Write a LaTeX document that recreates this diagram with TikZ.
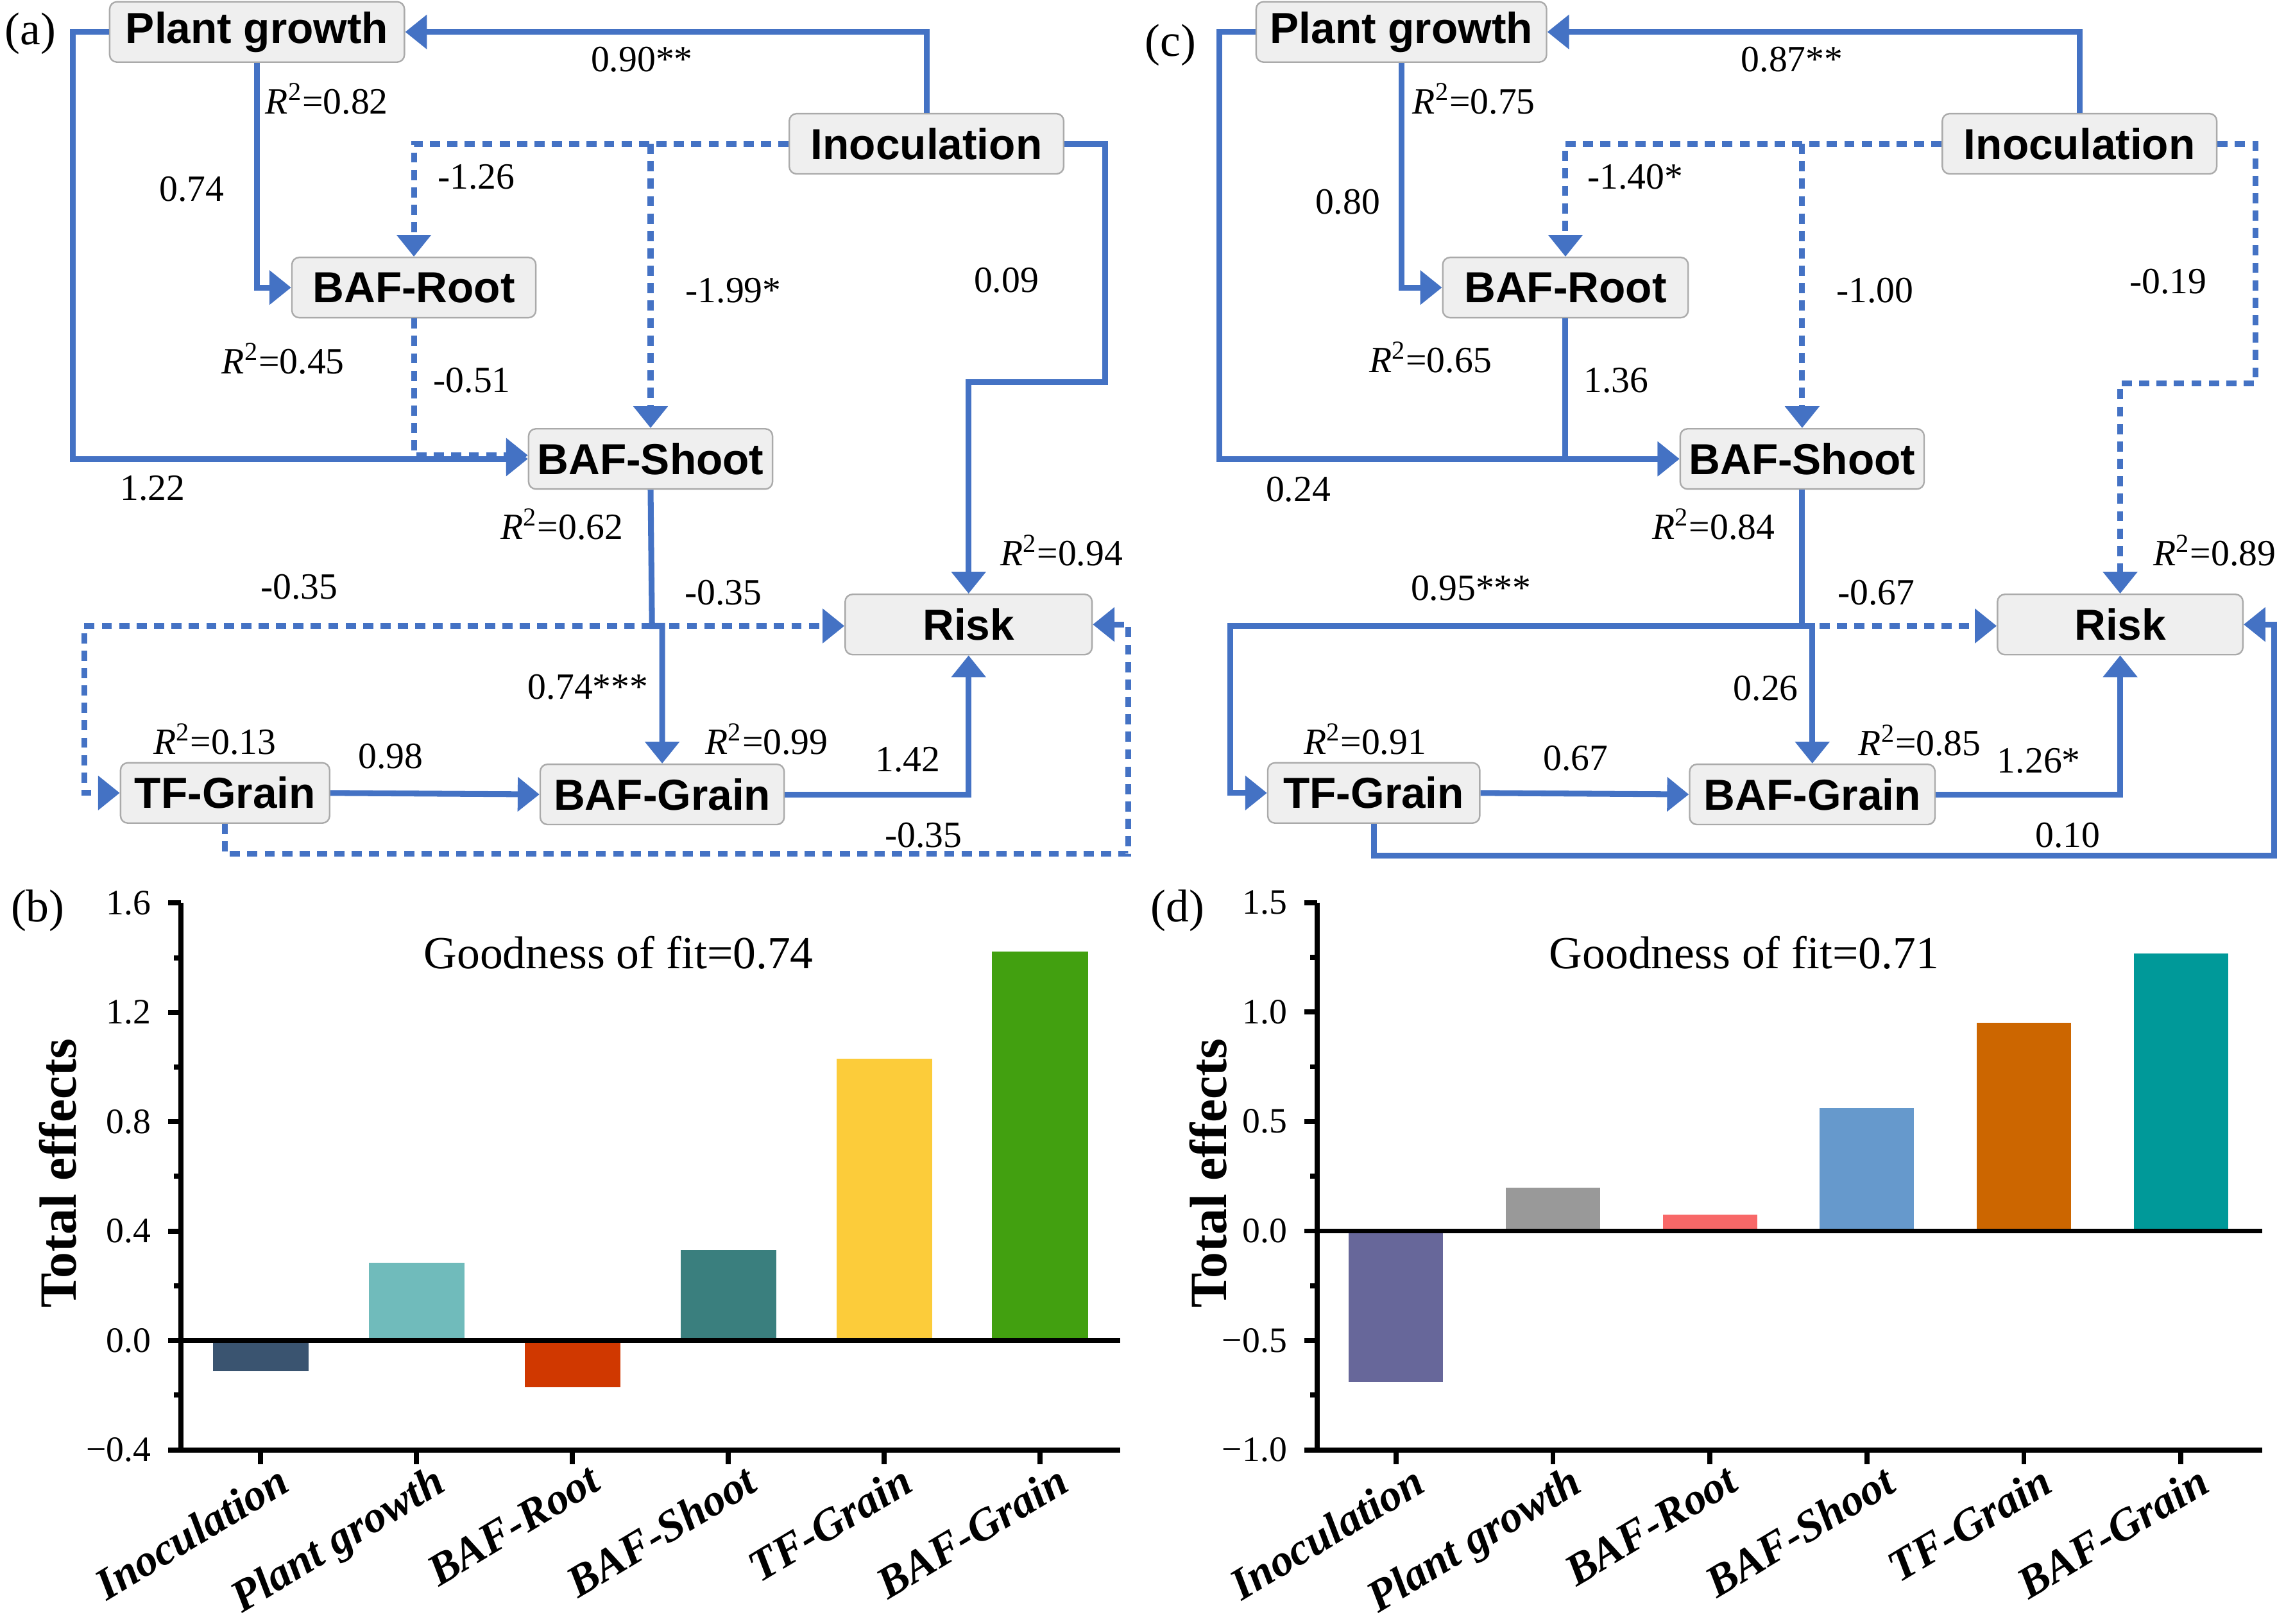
\documentclass[tikz,border=0pt]{standalone}
\usepackage{fontspec}
\setmainfont{Liberation Serif}
\newfontfamily\boxfont{Liberation Sans}
\usetikzlibrary{arrows.meta}
\usepackage{xcolor}
\definecolor{pathblue}{RGB}{68,114,196}
\definecolor{boxgray}{RGB}{239,239,239}
\definecolor{boxedge}{RGB}{170,170,170}
% bar colours, panel (b)
\definecolor{inocb}{RGB}{58,84,112}
\definecolor{plantb}{RGB}{112,187,187}
\definecolor{rootb}{RGB}{208,56,0}
\definecolor{shootb}{RGB}{58,127,126}
\definecolor{tfb}{RGB}{252,204,58}
\definecolor{grainb}{RGB}{66,160,16}
% bar colours, panel (d)
\definecolor{inocd}{RGB}{103,103,154}
\definecolor{plantd}{RGB}{153,153,153}
\definecolor{rootd}{RGB}{248,104,104}
\definecolor{shootd}{RGB}{102,153,204}
\definecolor{tfd}{RGB}{204,102,0}
\definecolor{graind}{RGB}{0,153,153}
\newcommand{\rsq}[1]{\textit{R}\textsuperscript{2}=#1}
\tikzset{varnode/.style={rectangle, rounded corners=0.1cm, fill=boxgray, draw=boxedge, line width=0.6pt, minimum height=0.83cm, inner sep=0pt, font=\boxfont\bfseries\fontsize{17}{20}\selectfont},
solidarrow/.style={pathblue, line width=0.08cm, -{Triangle[length=0.3cm, width=0.46cm]}},
dottedarrow/.style={solidarrow, dash pattern=on 0.14cm off 0.1cm},
coeflabel/.style={font=\fontsize{14.5}{17}\selectfont, inner sep=0pt}}

\begin{document}
\begin{tikzpicture}[
        x=0.02cm, y=-0.02cm,
        panellabel/.style={font=\fontsize{18}{21}\selectfont},
        axisline/.style={black, line width=0.07cm},
        ticklabel/.style={anchor=east, inner xsep=0.2cm, font=\fontsize{14}{16}\selectfont},
        catlabel/.style={anchor=north east, rotate=31, inner sep=0pt, font=\bfseries\itshape\fontsize{17.5}{20}\selectfont},
        yaxislabel/.style={rotate=90, font=\bfseries\fontsize{20.5}{24}\selectfont},
        fitlabel/.style={font=\fontsize{18}{21}\selectfont}
    ]
    \useasboundingbox (0,0) rectangle (1568,1118);
    % Panel (a): variables
    \node[panellabel] (la) at (21,23) {(a)};
    \node[varnode, minimum width=4.06cm] (pgA) at (177,22) {Plant growth};
    \node[varnode, minimum width=3.78cm] (inocA) at (638,99) {Inoculation};
    \node[varnode, minimum width=3.36cm] (rootA) at (285,198) {BAF-Root};
    \node[varnode, minimum width=3.36cm] (shootA) at (448,316) {BAF-Shoot};
    \node[varnode, minimum width=3.4cm] (riskA) at (667,430) {Risk};
    \node[varnode, minimum width=2.88cm] (tfA) at (155,546) {TF-Grain};
    \node[varnode, minimum width=3.36cm] (grainA) at (456,547) {BAF-Grain};
    \coordinate (bendA) at (761,263);
    \coordinate (jA) at (449,431);
    \coordinate (cornerA) at (58,431);
    \coordinate (bottomA) at (777,588);
    % Panel (a): paths
    \draw[solidarrow] (inocA.north) |- (pgA.east);
    \draw[solidarrow] (pgA.west) -- ++(-25,0) |- (shootA.west);
    \draw[solidarrow] (pgA.south) |- (rootA.west);
    \draw[dottedarrow] (inocA.west) -| (rootA.north);
    \draw[dottedarrow] (inocA.west -| shootA.north) -- (shootA.north);
    \draw[solidarrow] (inocA.east) -| (bendA) -| (riskA.north);
    \draw[dottedarrow] (rootA.south) |- ([yshift=0.05cm]shootA.west);
    \draw[solidarrow] (shootA.south) -- (jA) -| (grainA.north);
    \draw[dottedarrow] (jA) -- (jA -| riskA.west);
    \draw[dottedarrow] (jA) -- (cornerA) |- (tfA.west);
    \draw[solidarrow] (tfA.east) -- (grainA.west);
    \draw[solidarrow] (grainA.east) -| (riskA.south);
    \draw[dottedarrow] (tfA.south) |- (bottomA) |- (riskA.east);
    % Panel (a): coefficients
    \node[coeflabel] (cA1) at (442,41) {0.90**};
    \node[coeflabel] (cA2) at (225,68) {\rsq{0.82}};
    \node[coeflabel] (cA3) at (132,130) {0.74};
    \node[coeflabel] (cA4) at (328,122) {-1.26};
    \node[coeflabel] (cA5) at (505,200) {-1.99*};
    \node[coeflabel] (cA6) at (693,193) {0.09};
    \node[coeflabel] (cA7) at (195,247) {\rsq{0.45}};
    \node[coeflabel] (cA8) at (325,262) {-0.51};
    \node[coeflabel] (cA9) at (105,336) {1.22};
    \node[coeflabel] (cA10) at (387,361) {\rsq{0.62}};
    \node[coeflabel] (cA11) at (731,379) {\rsq{0.94}};
    \node[coeflabel] (cA12) at (206,404) {-0.35};
    \node[coeflabel] (cA13) at (498,408) {-0.35};
    \node[coeflabel] (cA14) at (405,473) {0.74***};
    \node[coeflabel] (cA15) at (148,509) {\rsq{0.13}};
    \node[coeflabel] (cA16) at (269,521) {0.98};
    \node[coeflabel] (cA17) at (528,509) {\rsq{0.99}};
    \node[coeflabel] (cA18) at (625,523) {1.42};
    \node[coeflabel] (cA19) at (636,575) {-0.35};

    % Panel (c): variables
    \node[panellabel] (lc) at (806,31) {(c)};
    \node[varnode, minimum width=4.0cm] (pgC) at (965,22) {Plant growth};
    \node[varnode, minimum width=3.78cm] (inocC) at (1432,99) {Inoculation};
    \node[varnode, minimum width=3.38cm] (rootC) at (1078,198) {BAF-Root};
    \node[varnode, minimum width=3.36cm] (shootC) at (1241,316) {BAF-Shoot};
    \node[varnode, minimum width=3.38cm] (riskC) at (1460,430) {Risk};
    \node[varnode, minimum width=2.92cm] (tfC) at (946,546) {TF-Grain};
    \node[varnode, minimum width=3.38cm] (grainC) at (1248,547) {BAF-Grain};
    \coordinate (bendC) at (1553,264);
    \coordinate (jC) at (1241,431);
    \coordinate (cornerC) at (847,431);
    \coordinate (bottomC) at (1566,589);
    % Panel (c): paths
    \draw[solidarrow] (inocC.north) |- (pgC.east);
    \draw[solidarrow] (pgC.west) -- ++(-25,0) |- (shootC.west);
    \draw[solidarrow] (pgC.south) |- (rootC.west);
    \draw[dottedarrow] (inocC.west) -| (rootC.north);
    \draw[dottedarrow] (inocC.west -| shootC.north) -- (shootC.north);
    \draw[dottedarrow] (inocC.east) -| (bendC) -| (riskC.north);
    \draw[solidarrow] (rootC.south) |- (shootC.west);
    \draw[solidarrow] (shootC.south) -- (jC) -| (grainC.north);
    \draw[dottedarrow] (jC) -- (jC -| riskC.west);
    \draw[solidarrow] (jC) -- (cornerC) |- (tfC.west);
    \draw[solidarrow] (tfC.east) -- (grainC.west);
    \draw[solidarrow] (grainC.east) -| (riskC.south);
    \draw[solidarrow] (tfC.south) |- (bottomC) |- (riskC.east);
    % Panel (c): coefficients
    \node[coeflabel] (cC1) at (1234,41) {0.87**};
    \node[coeflabel] (cC2) at (1015,68) {\rsq{0.75}};
    \node[coeflabel] (cC3) at (928,139) {0.80};
    \node[coeflabel] (cC4) at (1126,122) {-1.40*};
    \node[coeflabel] (cC5) at (1291,200) {-1.00};
    \node[coeflabel] (cC6) at (1493,194) {-0.19};
    \node[coeflabel] (cC7) at (985,246) {\rsq{0.65}};
    \node[coeflabel] (cC8) at (1113,262) {1.36};
    \node[coeflabel] (cC9) at (894,337) {0.24};
    \node[coeflabel] (cC10) at (1180,361) {\rsq{0.84}};
    \node[coeflabel] (cC11) at (1525,379) {\rsq{0.89}};
    \node[coeflabel] (cC12) at (1013,405) {0.95***};
    \node[coeflabel] (cC13) at (1292,408) {-0.67};
    \node[coeflabel] (cC14) at (1216,474) {0.26};
    \node[coeflabel] (cC15) at (940,509) {\rsq{0.91}};
    \node[coeflabel] (cC16) at (1085,522) {0.67};
    \node[coeflabel] (cC17) at (1322,510) {\rsq{0.85}};
    \node[coeflabel] (cC18) at (1404,524) {1.26*};
    \node[coeflabel] (cC19) at (1424,575) {0.10};

    % Panel (b): total effects
    \node[panellabel] (lb) at (26,627) {(b)};
    \node[yaxislabel] (ylabB) at (40,808) {Total effects};
    \node[fitlabel] (fitB) at (426,656) {Goodness of fit=0.74};
    \begin{scope}[shift={(124.7,923)}, y=3.766cm]
        % Bars
        \foreach \v/\c [count=\i] in {-0.113/inocb, 0.284/plantb, -0.172/rootb, 0.332/shootb, 1.031/tfb, 1.423/grainb} {
            \fill[\c] ({54.8+107.35*(\i-1)-33},0) rectangle ++(66,\v);
        }
        % Axes
        \draw[axisline] (0,1.6) -- (0,-0.4) -- (646.9,-0.4);
        \draw[axisline] (0,0) -- (646.9,0);
        % Axis graduation
        \foreach \v/\vtext [count=\i] in {1.6/1.6, 1.2/1.2, 0.8/0.8, 0.4/0.4, 0.0/0.0, -0.4/−0.4} {
            \draw[axisline] (0,\v) -- (-9,\v) node[ticklabel] (tickB\i) {\vtext};
        }
        \foreach \v in {1.4, 1.0, 0.6, 0.2, -0.2} {
            \draw[axisline] (0,\v) -- (-5,\v);
        }
        \foreach \n [count=\i] in {Inoculation, Plant growth, BAF-Root, BAF-Shoot, TF-Grain, BAF-Grain} {
            \draw[axisline] ({54.8+107.35*(\i-1)},-0.4) -- ++(0,-0.2cm) node[catlabel, xshift=0.22cm, yshift=-0.06cm] (catB\i) {\n};
        }
    \end{scope}

    % Panel (d): total effects
    \node[panellabel] (ld) at (811,627) {(d)};
    \node[yaxislabel] (ylabD) at (832,808) {Total effects};
    \node[fitlabel] (fitD) at (1201,656) {Goodness of fit=0.71};
    \begin{scope}[shift={(907,847.6)}, y=3.016cm]
        % Bars
        \foreach \v/\c [count=\i] in {-0.69/inocd, 0.198/plantd, 0.076/rootd, 0.56/shootd, 0.95/tfd, 1.268/graind} {
            \fill[\c] ({54.3+108.1*(\i-1)-32.5},0) rectangle ++(65,\v);
        }
        % Axes
        \draw[axisline] (0,1.5) -- (0,-1.0) -- (651,-1.0);
        \draw[axisline] (0,0) -- (651,0);
        % Axis graduation
        \foreach \v/\vtext [count=\i] in {1.5/1.5, 1.0/1.0, 0.5/0.5, 0.0/0.0, -0.5/−0.5, -1.0/−1.0} {
            \draw[axisline] (0,\v) -- (-9,\v) node[ticklabel] (tickD\i) {\vtext};
        }
        \foreach \v in {1.25, 0.75, 0.25, -0.25, -0.75} {
            \draw[axisline] (0,\v) -- (-5,\v);
        }
        \foreach \n [count=\i] in {Inoculation, Plant growth, BAF-Root, BAF-Shoot, TF-Grain, BAF-Grain} {
            \draw[axisline] ({54.3+108.1*(\i-1)},-1.0) -- ++(0,-0.2cm) node[catlabel, xshift=0.22cm, yshift=-0.06cm] (catD\i) {\n};
        }
    \end{scope}
\end{tikzpicture}
\end{document}
